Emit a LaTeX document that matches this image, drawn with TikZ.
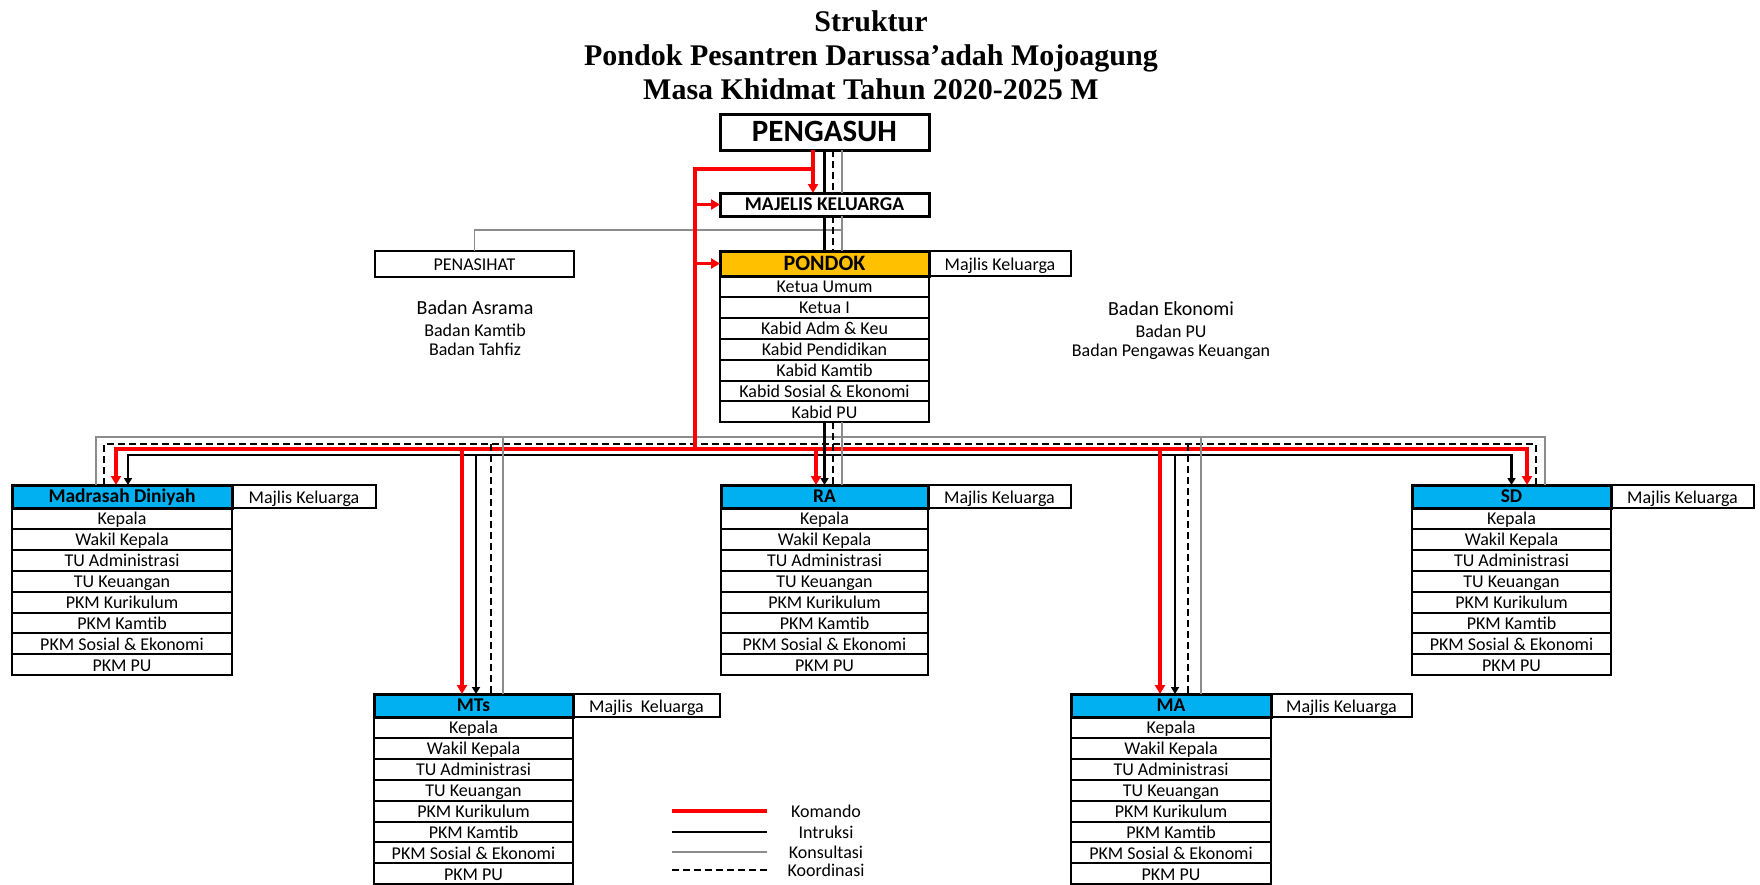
\documentclass[tikz,border=0pt]{standalone}
\usepackage{fontspec}
\setmainfont{Carlito}
\newfontfamily\judulfont{Liberation Serif}
\usetikzlibrary{calc}
\usetikzlibrary{arrows.meta}

\definecolor{kuning}{RGB}{255,192,0}
\definecolor{biru}{RGB}{0,176,240}
\definecolor{merah}{RGB}{255,0,0}

\begin{document}
\begin{tikzpicture}[x=1pt,y=-1pt,
    kotak/.style={draw,line width=2pt,inner sep=0pt,outer sep=0pt,minimum height=20.9pt,
        text height=13pt,text depth=0pt,font=\fontsize{18}{20}\selectfont},
    kepala/.style={kotak,line width=3pt,minimum height=23pt,text height=12.5pt,text depth=0pt,
        font=\fontsize{19.5}{22}\selectfont\bfseries},
    samping/.style={kotak,line width=2.5pt,minimum height=23pt},
    teks/.style={inner sep=0pt,text height=13pt,text depth=0pt,font=\fontsize{18}{20}\selectfont},
    komando/.style={draw=merah,line width=3.5pt,>={Triangle[length=9pt,width=10pt]}},
    intruksi/.style={draw=black,line width=2.2pt,>={Triangle[length=7pt,width=8pt]}},
    konsultasi/.style={draw=black!45,line width=1.6pt},
    koordinasi/.style={draw=black,line width=2.2pt,dash pattern=on 7pt off 4pt}]
\useasboundingbox (0,0) rectangle (1760,884);

% judul
\node[align=center,font=\judulfont\bfseries\fontsize{30}{34}\selectfont] (judul) at (871,55)
    {Struktur\\Pondok Pesantren Darussa’adah Mojoagung\\Masa Khidmat Tahun 2020-2025 M};

% pengasuh, majelis, pondok
\node[kotak,line width=3pt,minimum width=209,minimum height=36,text height=18pt,text depth=0pt,
    font=\fontsize{31}{34}\selectfont\bfseries,anchor=north west] (pengasuh) at (720,114) {PENGASUH};
\node[kepala,minimum width=209,anchor=north west] (majelis) at (720,193) {MAJELIS KELUARGA};
\node[kepala,fill=kuning,minimum width=209,minimum height=25,text height=13.5pt,text depth=0pt,
    font=\fontsize{22}{25}\selectfont\bfseries,anchor=north west] (pondok) at (720,251) {PONDOK};
\node[samping,minimum width=142,minimum height=25,anchor=north west] (pondok-mk) at (pondok.north east) {Majlis Keluarga};
\foreach \t [count=\i] in {Ketua Umum,Ketua I,Kabid Adm \& Keu,Kabid Pendidikan,Kabid Kamtib,Kabid Sosial \& Ekonomi,Kabid PU}
    \node[kotak,minimum width=209,anchor=north west] (pd\i) at (720,{276+(\i-1)*20.9}) {\t};

% penasihat dan badan
\node[samping,minimum width=199,minimum height=26,anchor=north west] (penasihat) at (375,251) {PENASIHAT};
\node[teks,font=\fontsize{20}{22}\selectfont] (asrama) at (475,308) {Badan Asrama};
\node[teks] (kamtib) at (475,330) {Badan Kamtib};
\node[teks] (tahfiz) at (475,349) {Badan Tahfiz};
\node[teks,font=\fontsize{20}{22}\selectfont] (ekonomi) at (1171,309) {Badan Ekonomi};
\node[teks] (pu) at (1171,331) {Badan PU};
\node[teks] (pengawas) at (1171,350) {Badan Pengawas Keuangan};

% unit sekolah
\foreach \nm/\x/\y/\w/\ws/\judul/\mk in {md/12/485/220/144/Madrasah Diniyah/Majlis Keluarga,
        mts/374/694/199/147/MTs/Majlis~ Keluarga,ra/721/485/207/143/RA/Majlis Keluarga,
        ma/1071/694/200/141/MA/Majlis Keluarga,sd/1412/485/199/143/SD/Majlis Keluarga}
{
    \node[kepala,fill=biru,minimum width=\w,anchor=north west] (\nm) at (\x,\y) {\judul};
    \node[samping,minimum width=\ws,anchor=north west] (\nm-mk) at (\nm.north east) {\mk};
    \foreach \t [count=\i] in {Kepala,Wakil Kepala,TU Administrasi,TU Keuangan,PKM Kurikulum,PKM Kamtib,PKM Sosial \& Ekonomi,PKM PU}
        \node[kotak,minimum width=\w,anchor=north west] (\nm\i) at (\x,{\y+23+(\i-1)*20.9}) {\t};
}

% titik garis
\coordinate (busG) at (0,437);
\coordinate (busD) at (0,444);
\coordinate (busR) at (0,449);
\coordinate (busB) at (0,455);
\coordinate (belok) at (695,169);
\foreach \nm/\r/\b/\d/\g in {md/-6/6/-18/-26,mts/-11.5/2.5/17.5/29.5,ra/-8.5/0/8.5/17.5,ma/-11/4/17/30,sd/15.5/0/24.5/33.5}
{
    \coordinate (\nm R) at ($(\nm.north)+(\r,0)$);
    \coordinate (\nm B) at ($(\nm.north)+(\b,0)$);
    \coordinate (\nm D) at ($(\nm.north)+(\d,0)$);
    \coordinate (\nm G) at ($(\nm.north)+(\g,0)$);
}

% konsultasi
\draw[konsultasi] (penasihat.north) |- ($(majelis.south)+(17.5,14)$);
\draw[konsultasi] (mdG) -- (mdG |- busG) -- (sdG |- busG) -- (sdG);
% koordinasi
\draw[koordinasi] (mdD) -- (mdD |- busD) -- (sdD |- busD) -- (sdD);
% komando
\draw[komando,<->] (mdR) -- (mdR |- busR) -- (sdR |- busR) -- (sdR);
% intruksi
\draw[intruksi,<->] (mdB) -- (mdB |- busB) -- (sdB |- busB) -- (sdB);

\foreach \atas/\bawah in {pengasuh/majelis,majelis/pondok}
{
    \draw[konsultasi] ($(\atas.south)+(17.5,0)$) -- ($(\bawah.north)+(17.5,0)$);
    \draw[koordinasi] ($(\atas.south)+(8.5,0)$) -- ($(\bawah.north)+(8.5,0)$);
    \draw[intruksi] (\atas.south) -- (\bawah.north);
}
\foreach \nm in {mts,ma}
{
    \draw[konsultasi] (\nm G |- busG) -- (\nm G);
    \draw[koordinasi] (\nm D |- busD) -- (\nm D);
    \draw[komando,->] (\nm R |- busR) -- (\nm R);
    \draw[intruksi,->] (\nm B |- busB) -- (\nm B);
}
\draw[konsultasi] (pd7.south -| raG) -- (raG);
\draw[koordinasi] (pd7.south -| raD) -- (raD);
\draw[komando,->] (raR |- busR) -- (raR);
\draw[intruksi,->] (pd7.south -| raB) -- (raB);

\draw[komando,->] ($(pengasuh.south)+(-11.5,0)$) -- ($(majelis.north)+(-11.5,0)$);
\draw[komando] ($(pengasuh.south)+(-11.5,0)$) |- (belok) -- (belok |- busR);
\draw[komando,->] (belok |- majelis.west) -- (majelis.west);
\draw[komando,->] (belok |- pondok.west) -- (pondok.west);

% legenda
\foreach \gaya/\ket/\y [count=\i] in {komando/Komando/811,intruksi/Intruksi/832,konsultasi/Konsultasi/852,koordinasi/Koordinasi/870}
{
    \node[teks] (legenda\i) at (826,\y) {\ket};
    \draw[\gaya] (672,\y) -- (767,\y);
}
\end{tikzpicture}
\end{document}
